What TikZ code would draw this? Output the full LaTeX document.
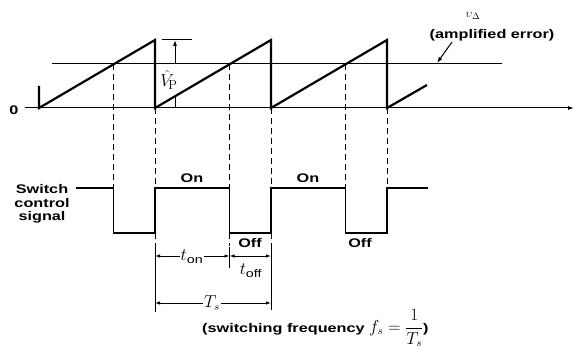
\documentclass[tikz,border=0pt]{standalone}
\usepackage{fontspec}
\newfontfamily\lab[FakeStretch=1.3]{Liberation Sans}
\usetikzlibrary{arrows.meta}
\begin{document}
\begin{tikzpicture}[x=1pt,y=-1pt,
 wave/.style={line width=2.2pt, line join=miter},
 sig/.style={line width=1.8pt, line join=miter},
 thinline/.style={line width=1pt},
 guide/.style={dash pattern=on 6pt off 4pt, line width=0.9pt},
 lbl/.style={font=\lab\bfseries\fontsize{12.5}{13.5}\selectfont, inner sep=0pt},
 mth/.style={font=\fontsize{16}{16}\selectfont, inner sep=1pt},
 tip/.style={-{Latex[length=6pt,width=4pt]}},
 dim/.style={line width=0.9pt,{Latex[length=5pt,width=3.5pt]}-{Latex[length=5pt,width=3.5pt]}}
]
\useasboundingbox (0,0) rectangle (576,350);
% axis
\coordinate (o) at (25,108);
\coordinate (xend) at (574,108);
\draw[thinline, tip] (o) -- (xend);
\node[lbl] (zero) at (14,110) {0};
% threshold
\coordinate (th1) at (52,64);
\coordinate (th2) at (502,64);
\draw[thinline] (th1) -- (th2);
% sawtooth
\draw[wave] (39,86) -- (39,108) -- (155,40) -- (155,108) -- (271,40) -- (271,108) -- (387,40) -- (387,108) -- (427,85);
% guides
\foreach \x/\y in {113.5/64,155/108,229.5/64,271/108,345.5/64,387/108}
  \draw[guide] (\x,\y) -- (\x,188);
% switch signal
\draw[sig] (76,188) -- (113.5,188) -- (113.5,233) -- (155,233) -- (155,188) -- (229.5,188) -- (229.5,233) -- (271,233) -- (271,188) -- (345.5,188) -- (345.5,233) -- (387,233) -- (387,188) -- (428,188);
\node[lbl, align=center] (swlab) at (42,204) {Switch\\control\\signal};
\node[lbl] (on1) at (192,178) {On};
\node[lbl] (on2) at (308,178) {On};
\node[lbl] (off1) at (250,243) {Off};
\node[lbl] (off2) at (360,243) {Off};
% amplitude dimension
\coordinate (vt1) at (162,40);
\coordinate (vt2) at (192,40);
\draw[thinline] (vt1) -- (vt2);
\draw[thinline, tip] (175,64) -- (175,40);
\draw[thinline] (175,95) -- (175,108);
\node[mth, inner sep=0pt] (vp) at (169,80) {$\hat{V}_{\!\mbox{\fontsize{13}{13}\selectfont P}}$};
% amplified error label
\node[font=\fontsize{13}{13}\selectfont, inner sep=0pt] (vd) at (473,16) {$\upsilon_{\Delta}$};
\node[lbl] (amp) at (492,35) {(amplified error)};
\coordinate (pt) at (437,63);
\draw[thinline, tip] (452,42) -- (pt);
% dimension lines
\foreach \x in {155,229.5,271}
  \draw[guide] (\x,233) -- (\x,246);
\draw[thinline] (155,245) -- (155,312);
\draw[thinline] (229.5,247) -- (229.5,268);
\draw[thinline] (271,245) -- (271,310);
\draw[dim] (155,256) -- (229.5,256);
\draw[dim] (229.5,256) -- (271,256);
\draw[dim] (155,303) -- (271,303);
\node[mth, fill=white] (ton) at (192,257) {$t_{\mbox{\lab\fontsize{11}{11}\selectfont on}}$};
\node[mth] (toff) at (251,271) {$t_{\mbox{\lab\fontsize{11}{11}\selectfont off}}$};
\node[mth, fill=white] (ts) at (212,303) {$T_s$};
\node[lbl, anchor=west] (freq) at (202,328) {(switching frequency \fontsize{16}{16}\selectfont$f_s = \displaystyle\frac{1}{T_s}$\lab\bfseries\fontsize{12.5}{13.5}\selectfont)};
\end{tikzpicture}
\end{document}
